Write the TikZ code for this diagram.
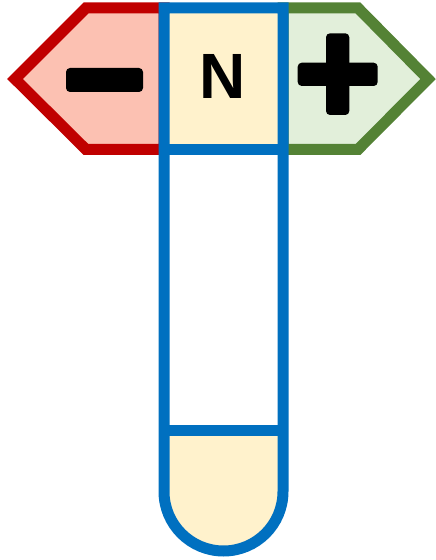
\documentclass[tikz,border=0pt]{standalone}
\usepackage{fontspec}
\setmainfont{Liberation Sans}
\definecolor{bblue}{HTML}{0070C0}
\definecolor{cream}{HTML}{FFF2CC}
\definecolor{rborder}{HTML}{C00000}
\definecolor{rfill}{HTML}{FCC1B2}
\definecolor{gborder}{HTML}{548235}
\definecolor{gfill}{HTML}{E2EFDA}
\begin{document}
\begin{tikzpicture}[x=1pt,y=1pt,line join=miter,
  thick outline/.style={line width=11pt},
  sign/.style={fill=black,rounded corners=4pt}]
\useasboundingbox (0,0) rectangle (436,560);
% red (minus) hexagon
\draw[thick outline,draw=rborder,fill=rfill]
  (164,552) -- (86,552) -- (15,481) -- (86,410.5) -- (164,410.5) -- cycle;
% green (plus) hexagon
\draw[thick outline,draw=gborder,fill=gfill]
  (283,552) -- (358,552) -- (428,481) -- (358,410.5) -- (283,410.5) -- cycle;
% signs
\fill[sign] (66,468) rectangle (143,492);
\fill[sign] (297.7,474) rectangle (377.7,497.3);
\fill[sign] (326,445) rectangle (349.3,526.7);
% blue tube fills
\fill[cream] (164,552) rectangle (283,410.5);
\fill[white] (164,410.5) rectangle (283,129);
\fill[cream] (164,129) -- (164,68.5) arc[start angle=180,end angle=360,radius=59.5] -- (283,129) -- cycle;
% blue outline
\draw[thick outline,draw=bblue]
  (283,68.5) -- (283,552) -- (164,552) -- (164,68.5) arc[start angle=180,end angle=360,radius=59.5];
\draw[thick outline,draw=bblue] (164,410.5) -- (283,410.5);
\draw[thick outline,draw=bblue] (164,129) -- (283,129);
\node[inner sep=0pt,font=\fontsize{64}{64}\selectfont\bfseries] (n) at (222.5,484) {N};
\end{tikzpicture}
\end{document}
